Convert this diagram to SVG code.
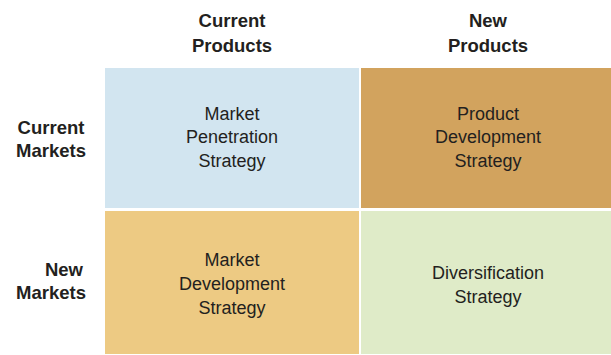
<svg xmlns="http://www.w3.org/2000/svg" width="611" height="355" viewBox="0 0 611 355">
<style>
text{font-family:"Liberation Sans",Arial,sans-serif;fill:#231F20;text-anchor:middle}
.h{font-weight:bold;font-size:18.5px}
.c{font-size:18px}
</style>
<rect width="611" height="355" fill="#fff"/>
<g id="col-headers">
<text class="h" x="232" y="27">Current</text>
<text class="h" x="232" y="52">Products</text>
<text class="h" x="488" y="27">New</text>
<text class="h" x="488" y="52">Products</text>
</g>
<g id="row-headers">
<text class="h" x="51" y="134">Current</text>
<text class="h" x="51" y="157">Markets</text>
<text class="h" x="64" y="276">New</text>
<text class="h" x="51" y="299">Markets</text>
</g>
<g id="market-penetration">
<rect x="105" y="68" width="254" height="140" fill="#D2E5F0"/>
<text class="c" x="232" y="120">Market</text>
<text class="c" x="232" y="143">Penetration</text>
<text class="c" x="232" y="167">Strategy</text>
</g>
<g id="product-development">
<rect x="361" y="68" width="250" height="140" fill="#D2A35E"/>
<text class="c" x="488" y="120">Product</text>
<text class="c" x="488" y="143">Development</text>
<text class="c" x="488" y="167">Strategy</text>
</g>
<g id="market-development">
<rect x="105" y="211" width="254" height="143" fill="#EDCA83"/>
<text class="c" x="232" y="266">Market</text>
<text class="c" x="232" y="290">Development</text>
<text class="c" x="232" y="314">Strategy</text>
</g>
<g id="diversification">
<rect x="361" y="211" width="250" height="143" fill="#DFEBC8"/>
<text class="c" x="488" y="279">Diversification</text>
<text class="c" x="488" y="303">Strategy</text>
</g>
<g id="connectors"/>
</svg>
